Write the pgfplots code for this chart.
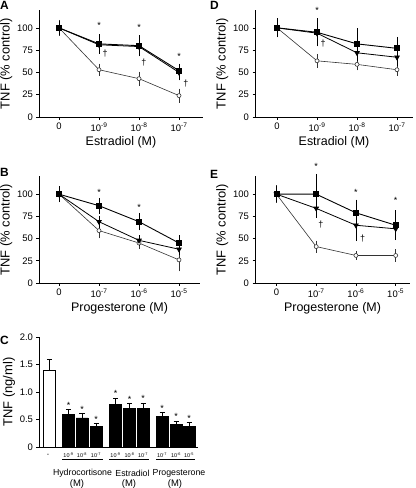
\documentclass[border=0pt]{standalone}
\usepackage{fontspec}
\setmainfont{Liberation Sans}
\usepackage{pgfplots}
\pgfplotsset{compat=1.18}
\pgfplotsset{
  lp/.style={scale only axis, axis lines=left, axis line style={-, line width=0.8pt},
    ymin=0, ymax=120, ytick={0,25,50,75,100}, yticklabels={0,25,50,75,100},
    xtick={0,1,2,3}, tick align=outside, major tick length=2.5bp,
    tick style={black, line width=0.6pt},
    ticklabel style={font=\fontsize{9.5}{10}\selectfont},
    xlabel style={font=\fontsize{12.5}{13}\selectfont, yshift=2bp},
    ylabel style={font=\fontsize{13}{14}\selectfont, yshift=-2bp},
    ylabel={TNF (\% control)}, clip=false},
  sq/.style={black, line width=0.9pt, mark=square*, mark size=2.5bp, mark options={solid},
    error bars/.cd, y dir=both, y explicit, error mark=-, error mark options={mark size=2.5bp, line width=0.7pt}, error bar style={line width=0.7pt}},
  tri/.style={black, line width=0.8pt, mark=triangle*, mark size=2.6bp, mark options={rotate=180, solid},
    error bars/.cd, y dir=both, y explicit, error mark=-, error mark options={mark size=2.5bp, line width=0.7pt}, error bar style={line width=0.7pt}},
  op/.style={black!80, line width=0.6pt, mark=*, mark size=2bp, mark options={fill=white, draw=black!80, solid, line width=0.6pt},
    error bars/.cd, y dir=both, y explicit, error mark=-, error mark options={mark size=2.5bp, line width=0.7pt}, error bar style={line width=0.7pt}},
}
\newcommand{\sig}{\fontsize{9}{9}\selectfont}
\newcommand{\plab}[1]{\fontsize{12}{12}\selectfont\bfseries #1}
\begin{document}
\begin{tikzpicture}
\useasboundingbox (0,0) rectangle (416bp,-488bp);
% Panel letters
\node[anchor=north west, inner sep=0] at (0bp,-1bp) {\plab{A}};
\node[anchor=north west, inner sep=0] at (210bp,-1bp) {\plab{D}};
\node[anchor=north west, inner sep=0] at (0bp,-168bp) {\plab{B}};
\node[anchor=north west, inner sep=0] at (210bp,-170bp) {\plab{E}};
\node[anchor=north west, inner sep=0] at (0bp,-336bp) {\plab{C}};

% Panel A
\begin{axis}[lp, at={(39bp,-117bp)}, anchor=south west, width=164bp, height=107bp,
  xmin=-0.5, xmax=3.6,
  xticklabels={0,10\textsuperscript{-9},10\textsuperscript{-8},10\textsuperscript{-7}},
  xlabel={Estradiol (M)}]
\addplot[op] coordinates {(0,100) +- (0,6) (1,53) +- (0,4) (2,43) +- (0,5) (3,24) +- (0,5)};
\addplot[tri] coordinates {(0,100) +- (0,5) (1,81) +- (0,7) (2,79) +- (0,8) (3,50) +- (0,6)};
\addplot[sq] coordinates {(0,100) +- (0,5) (1,82) +- (0,8) (2,80) +- (0,9) (3,52) +- (0,5)};
\node at (axis cs:1,103) {\sig *};
\node at (axis cs:2,101) {\sig *};
\node at (axis cs:3,68) {\sig *};
\node at (axis cs:1.15,71) {\sig \textdagger};
\node at (axis cs:2.12,61) {\sig \textdagger};
\node at (axis cs:3.17,38) {\sig \textdagger};
\end{axis}

% Panel D
\begin{axis}[lp, at={(255bp,-117bp)}, anchor=south west, width=158bp, height=107bp,
  xmin=-0.55, xmax=3.4,
  xticklabels={0,10\textsuperscript{-9},10\textsuperscript{-8},10\textsuperscript{-7}},
  xlabel={Estradiol (M)}]
\addplot[op] coordinates {(0,100) +- (0,6) (1,63) +- (0,5) (2,59) +- (0,4) (3,53) +- (0,4)};
\addplot[tri] coordinates {(0,100) +- (0,6) (1,94) +- (0,8) (2,72) +- (0,6) (3,67) +- (0,7)};
\addplot[sq] coordinates {(0,100) +- (0,8) (1,95) +- (0,13) (2,82) +- (0,15) (3,77) +- (0,10)};
\node at (axis cs:1,120) {\sig *};
\node at (axis cs:1.15,82) {\sig \textdagger};
\end{axis}

% Panel B
\begin{axis}[lp, at={(39bp,-283bp)}, anchor=south west, width=161bp, height=106.6bp,
  xmin=-0.5, xmax=3.525,
  xticklabels={0,10\textsuperscript{-7},10\textsuperscript{-6},10\textsuperscript{-5}},
  xlabel={Progesterone (M)}]
\addplot[op] coordinates {(0,100) +- (0,6) (1,59) +- (0,6) (2,45) +- (0,4) (3,26) +- (0,10)};
\addplot[tri] coordinates {(0,100) +- (0,5) (1,69) +- (0,4) (2,48) +- (0,3) (3,38) +- (0,4)};
\addplot[sq] coordinates {(0,100) +- (0,6) (1,87) +- (0,6) (2,69) +- (0,7) (3,45) +- (0,6)};
\node at (axis cs:1,102) {\sig *};
\node at (axis cs:2,85) {\sig *};
\end{axis}

% Panel E
\begin{axis}[lp, at={(255bp,-283bp)}, anchor=south west, width=155bp, height=106.6bp,
  xmin=-0.54, xmax=3.36,
  xticklabels={0,10\textsuperscript{-7},10\textsuperscript{-6},10\textsuperscript{-5}},
  xlabel={Progesterone (M)}]
\addplot[op] coordinates {(0,100) +- (0,7) (1,41) +- (0,4) (2,31) +- (0,2) (3,31) +- (0,4)};
\addplot[tri] coordinates {(0,100) +- (0,5) (1,84) +- (0,8) (2,65) +- (0,15) (3,61) +- (0,8)};
\addplot[sq] coordinates {(0,100) +- (0,6) (1,100) +- (0,20) (2,79) +- (0,12) (3,65) +- (0,14)};
\node at (axis cs:1,131) {\sig *};
\node at (axis cs:2,102) {\sig *};
\node at (axis cs:3,93) {\sig *};
\node at (axis cs:1.12,66) {\sig \textdagger};
\node at (axis cs:2.17,50) {\sig \textdagger};
\end{axis}

% Panel C
\begin{axis}[scale only axis, at={(39bp,-447bp)}, anchor=south west, width=159bp, height=110bp,
  axis lines=left, axis line style={-, line width=0.8pt},
  xmin=39, xmax=198, ymin=0, ymax=2,
  ytick={0,0.5,1,1.5,2}, yticklabels={0,0.5,1.0,1.5,2.0},
  xtick=\empty, tick align=outside, major tick length=2.5bp,
  tick style={black, line width=0.6pt},
  ticklabel style={font=\fontsize{9.5}{10}\selectfont},
  ylabel={TNF (ng/ml)}, ylabel style={font=\fontsize{13}{14}\selectfont, yshift=-2bp},
  clip=false,
  error bars/y dir=plus, error bars/y explicit,
  error bars/error mark options={mark size=2.5bp, line width=0.7pt, rotate=90},
  error bars/error bar style={line width=0.7pt}]
\addplot[ybar, bar width=12, fill=white, draw=black, line width=0.7pt] coordinates {(49.5,1.40) +- (0,0.19)};
\addplot[ybar, bar width=12, fill=black, draw=black, line width=0.7pt] coordinates {
 (68.5,0.60) +- (0,0.09) (82,0.53) +- (0,0.09) (96,0.37) +- (0,0.06)
 (115.5,0.77) +- (0,0.12) (129.5,0.70) +- (0,0.09) (143,0.70) +- (0,0.10)
 (162,0.55) +- (0,0.08) (176,0.41) +- (0,0.06) (189,0.37) +- (0,0.07)};
\node at (axis cs:68.5,0.76) {\sig *};
\node at (axis cs:82,0.69) {\sig *};
\node at (axis cs:96,0.50) {\sig *};
\node at (axis cs:115.5,0.97) {\sig *};
\node at (axis cs:129.5,0.87) {\sig *};
\node at (axis cs:143,0.88) {\sig *};
\node at (axis cs:162,0.71) {\sig *};
\node at (axis cs:176,0.55) {\sig *};
\node at (axis cs:189,0.52) {\sig *};
\node[font=\fontsize{7}{7}\selectfont] at ([yshift=-8bp]axis cs:48,0) {-};
\node[font=\fontsize{5.5}{6}\selectfont, inner sep=0] at ([yshift=-8.5bp]axis cs:68.5,0) {10\textsuperscript{-9}};
\node[font=\fontsize{5.5}{6}\selectfont, inner sep=0] at ([yshift=-8.5bp]axis cs:82,0) {10\textsuperscript{-8}};
\node[font=\fontsize{5.5}{6}\selectfont, inner sep=0] at ([yshift=-8.5bp]axis cs:96,0) {10\textsuperscript{-7}};
\node[font=\fontsize{5.5}{6}\selectfont, inner sep=0] at ([yshift=-8.5bp]axis cs:115.5,0) {10\textsuperscript{-9}};
\node[font=\fontsize{5.5}{6}\selectfont, inner sep=0] at ([yshift=-8.5bp]axis cs:129.5,0) {10\textsuperscript{-8}};
\node[font=\fontsize{5.5}{6}\selectfont, inner sep=0] at ([yshift=-8.5bp]axis cs:143,0) {10\textsuperscript{-7}};
\node[font=\fontsize{5.5}{6}\selectfont, inner sep=0] at ([yshift=-8.5bp]axis cs:162,0) {10\textsuperscript{-7}};
\node[font=\fontsize{5.5}{6}\selectfont, inner sep=0] at ([yshift=-8.5bp]axis cs:176,0) {10\textsuperscript{-6}};
\node[font=\fontsize{5.5}{6}\selectfont, inner sep=0] at ([yshift=-8.5bp]axis cs:189,0) {10\textsuperscript{-5}};
\draw[line width=0.5pt] ([yshift=-12bp]axis cs:62,0) -- ([yshift=-12bp]axis cs:103,0);
\draw[line width=0.5pt] ([yshift=-12bp]axis cs:109,0) -- ([yshift=-12bp]axis cs:149,0);
\draw[line width=0.5pt] ([yshift=-12bp]axis cs:156,0) -- ([yshift=-12bp]axis cs:195,0);
\node[font=\fontsize{8.8}{9}\selectfont, inner sep=0] at ([yshift=-26bp]axis cs:82.5,0) {Hydrocortisone};
\node[font=\fontsize{8.8}{9}\selectfont, inner sep=0] at ([yshift=-26bp]axis cs:132.5,0) {Estradiol};
\node[font=\fontsize{8.8}{9}\selectfont, inner sep=0] at ([yshift=-26bp]axis cs:179,0) {Progesterone};
\node[font=\fontsize{9.5}{10}\selectfont, inner sep=0] at ([yshift=-37bp]axis cs:77,0) {(M)};
\node[font=\fontsize{9.5}{10}\selectfont, inner sep=0] at ([yshift=-37bp]axis cs:129,0) {(M)};
\node[font=\fontsize{9.5}{10}\selectfont, inner sep=0] at ([yshift=-37bp]axis cs:175,0) {(M)};
\end{axis}
\end{tikzpicture}
\end{document}
